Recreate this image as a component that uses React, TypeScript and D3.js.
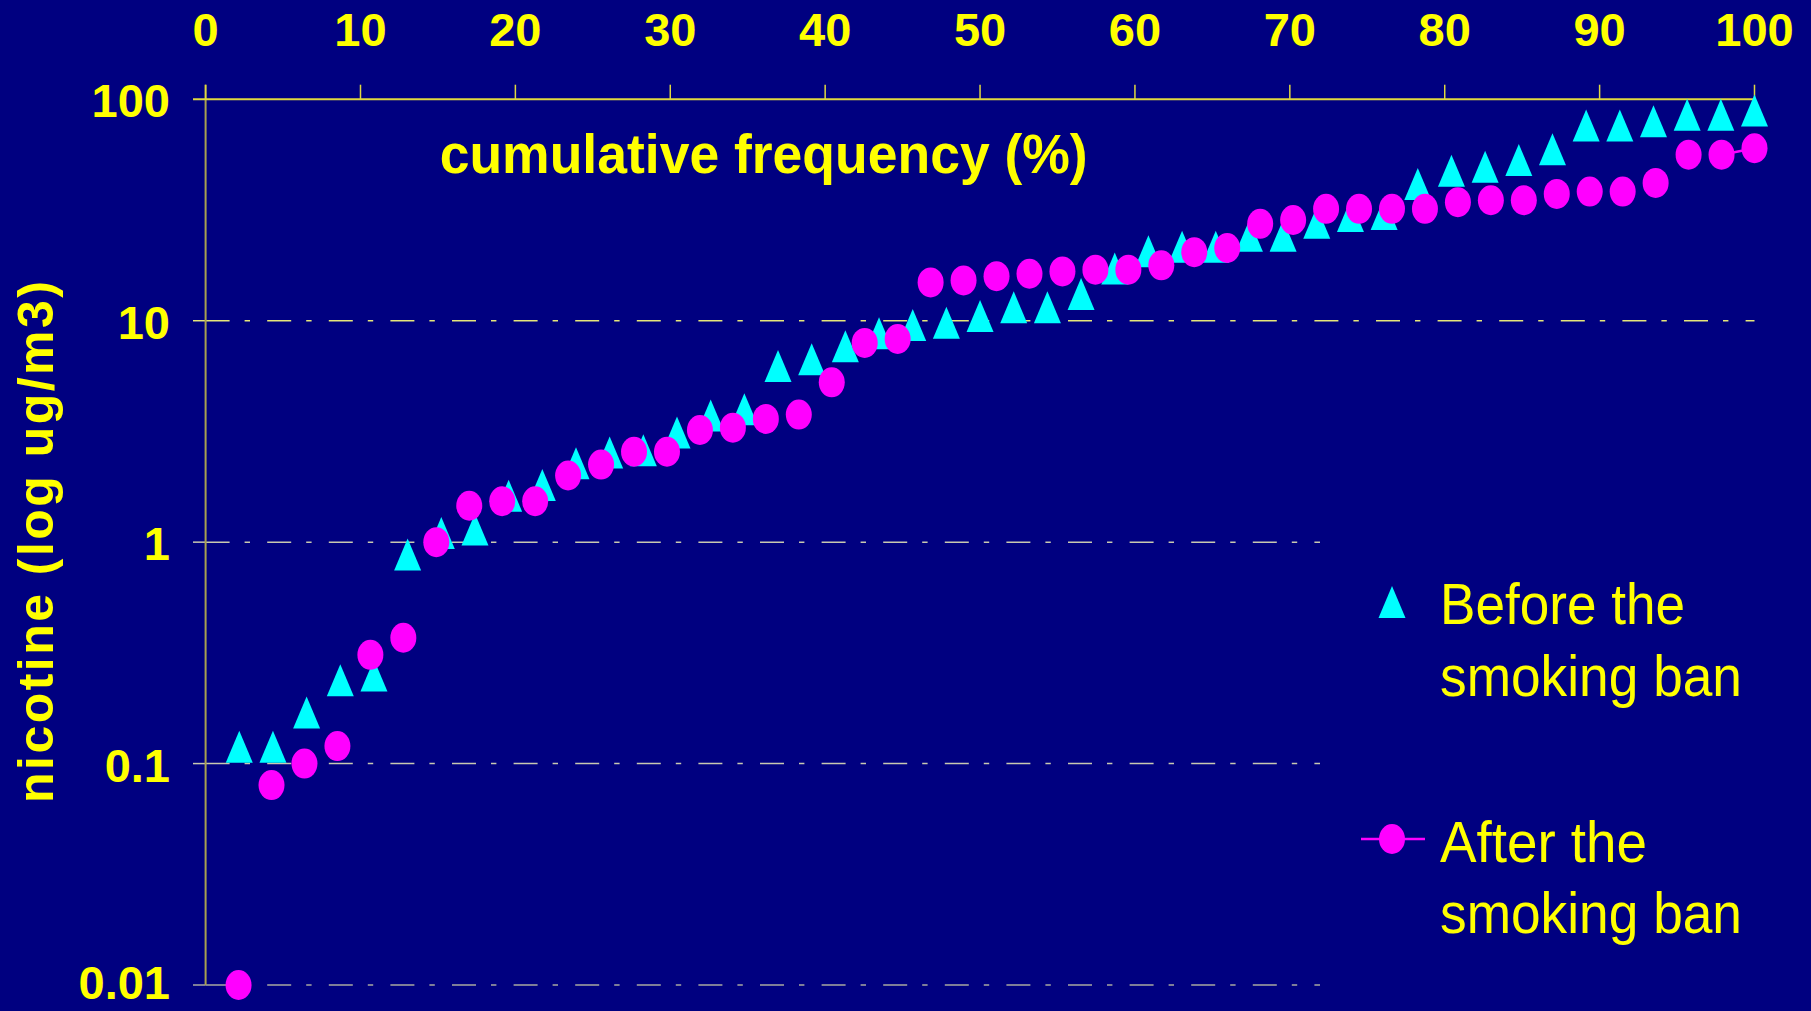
import React from "react";
import * as d3 from "d3";

// ---- data ----
const xTicks = [0, 10, 20, 30, 40, 50, 60, 70, 80, 90, 100];
const yTicks = [100, 10, 1, 0.1, 0.01];
const yTickLabels = ["100", "10", "1", "0.1", "0.01"];

// nicotine (ug/m3), sorted, before the smoking ban (46 samples)
const beforeBan = [
  0.119, 0.119, 0.17, 0.238, 0.25, 0.88, 1.1, 1.14, 1.62, 1.81,
  2.27, 2.54, 2.6, 3.13, 3.73, 3.98, 6.24, 6.7, 7.67, 8.78,
  9.57, 9.8, 10.5, 11.5, 11.5, 13.2, 17.2, 20.6, 21.6, 21.6,
  24.2, 24.2, 27.7, 29.7, 30.3, 41.4, 47.6, 49.6, 53.2, 59.5,
  76.2, 76.2, 79.6, 85.1, 85.1, 89.0,
];
// nicotine (ug/m3), sorted, after the smoking ban (47 samples)
const afterBan = [
  0.01, 0.08, 0.1, 0.12, 0.31, 0.37, 1.0, 1.46, 1.53, 1.53,
  2.0, 2.24, 2.56, 2.56, 3.21, 3.29, 3.6, 3.77, 5.27, 7.94,
  8.27, 14.9, 15.2, 15.9, 16.3, 16.7, 17.0, 17.0, 17.8, 20.4,
  21.3, 27.4, 28.5, 32.0, 32.0, 32.0, 32.0, 34.3, 35.0, 35.0,
  37.4, 38.3, 38.3, 41.9, 56.2, 56.2, 60.1,
];

const titleText = "cumulative frequency (%)";
const yTitle = "nicotine (log ug/m3)";
const legendBefore = ["Before the", "smoking ban"];
const legendAfter = ["After the", "smoking ban"];

// cumulative frequency (%) of each ranked sample
const cumFreq = (arr: number[]) => arr.map((v, i) => ({ f: ((i + 1) / arr.length) * 100, v }));

const W = 1811;
const H = 1011;
const BG = "#000080";
const YEL = "#ffff00";
const CYAN = "#00ffff";
const MAG = "#ff00ff";
const FONT = "'Liberation Sans', Arial, sans-serif";

export default function App() {
  const x = d3.scaleLinear().domain([0, 100]).range([205.6, 1754.5]);
  const y = d3.scaleLog().domain([0.01, 100]).range([985, 99.3]);

  const bData = cumFreq(beforeBan);
  const aData = cumFreq(afterBan);

  const tri = (cx: number, cy: number) => {
    const p = d3.path();
    p.moveTo(cx, cy - 16);
    p.lineTo(cx + 13.5, cy + 16);
    p.lineTo(cx - 13.5, cy + 16);
    p.closePath();
    return p.toString();
  };

  const lastTwo = aData.slice(-2);
  const line = d3
    .line<{ f: number; v: number }>()
    .x((d) => x(d.f))
    .y((d) => y(d.v));

  const gridColor = (t: number) =>
    t === 10 ? "#e6e67a" : t === 0.01 ? "#a8a8a0" : "#c8c8b0";

  return (
    <svg
      width={W}
      height={H}
      style={{ position: "absolute", left: 0, top: 0, display: "block" }}
      xmlns="http://www.w3.org/2000/svg"
    >
      <rect x={0} y={0} width={W} height={H} fill={BG} />

      {/* gridlines */}
      {yTicks
        .filter((t) => t !== 100)
        .map((t) => (
          <g key={"g" + t}>
            <line x1={193} x2={x(0)} y1={y(t)} y2={y(t)} stroke={gridColor(t)} strokeWidth={1.5} />
            <line
              x1={x(0)}
              x2={t === 10 ? x(100) : 1320}
              y1={y(t)}
              y2={y(t)}
              stroke={gridColor(t)}
              strokeWidth={1.5}
              strokeDasharray="24 15 5.4 17.2"
            />
          </g>
        ))}

      {/* y axis line */}
      <line x1={x(0)} x2={x(0)} y1={84.7} y2={y(0.01)} stroke="#a8a050" strokeWidth={2} />
      {/* top x axis line */}
      <line x1={193} x2={x(100)} y1={y(100)} y2={y(100)} stroke="#e0d840" strokeWidth={2} />
      {xTicks.map((t) => (
        <line key={"xt" + t} x1={x(t)} x2={x(t)} y1={84.7} y2={y(100)} stroke="#e0d840" strokeWidth={1.5} />
      ))}

      {/* x tick labels (top) */}
      {xTicks.map((t) => (
        <text
          key={"xl" + t}
          x={x(t)}
          y={45.5}
          fill={YEL}
          fontFamily={FONT}
          fontWeight="bold"
          fontSize={47}
          textAnchor="middle"
        >
          {t}
        </text>
      ))}

      {/* y tick labels */}
      {yTicks.map((t, i) => (
        <text
          key={"yl" + t}
          x={170}
          y={Math.min(y(t) + 18, 999)}
          fill={YEL}
          fontFamily={FONT}
          fontWeight="bold"
          fontSize={47}
          textAnchor="end"
        >
          {yTickLabels[i]}
        </text>
      ))}

      {/* title inside plot */}
      <text
        x={439.7}
        y={173}
        fill={YEL}
        fontFamily={FONT}
        fontWeight="bold"
        fontSize={55}
        textLength={648}
        lengthAdjust="spacingAndGlyphs"
      >
        {titleText}
      </text>

      {/* y axis title */}
      <text
        transform="translate(53,542) rotate(-90)"
        x={0}
        y={0}
        fill={YEL}
        fontFamily={FONT}
        fontWeight="bold"
        fontSize={50}
        textAnchor="middle"
        textLength={522}
        lengthAdjust="spacing"
      >
        {yTitle}
      </text>

      {/* before: cyan triangles */}
      {bData.map((d, i) => (
        <path key={"b" + i} d={tri(x(d.f), y(d.v))} fill={CYAN} />
      ))}

      {/* after: magenta line segment + ellipses */}
      <path d={line(lastTwo) || ""} fill="none" stroke={MAG} strokeWidth={2.5} />
      {aData.map((d, i) => (
        <ellipse key={"a" + i} cx={x(d.f)} cy={y(d.v)} rx={13} ry={15} fill={MAG} />
      ))}

      {/* legend */}
      <path d={tri(1392, 602)} fill={CYAN} />
      <text x={1440} y={624} fill={YEL} fontFamily={FONT} fontSize={58} textLength={245} lengthAdjust="spacingAndGlyphs">
        {legendBefore[0]}
      </text>
      <text x={1440} y={696} fill={YEL} fontFamily={FONT} fontSize={58} textLength={302} lengthAdjust="spacingAndGlyphs">
        {legendBefore[1]}
      </text>

      <line x1={1361} x2={1425} y1={839} y2={839} stroke={MAG} strokeWidth={2.5} />
      <ellipse cx={1392} cy={839} rx={13} ry={15} fill={MAG} />
      <text x={1440} y={862} fill={YEL} fontFamily={FONT} fontSize={58} textLength={207} lengthAdjust="spacingAndGlyphs">
        {legendAfter[0]}
      </text>
      <text x={1440} y={933} fill={YEL} fontFamily={FONT} fontSize={58} textLength={302} lengthAdjust="spacingAndGlyphs">
        {legendAfter[1]}
      </text>
    </svg>
  );
}
